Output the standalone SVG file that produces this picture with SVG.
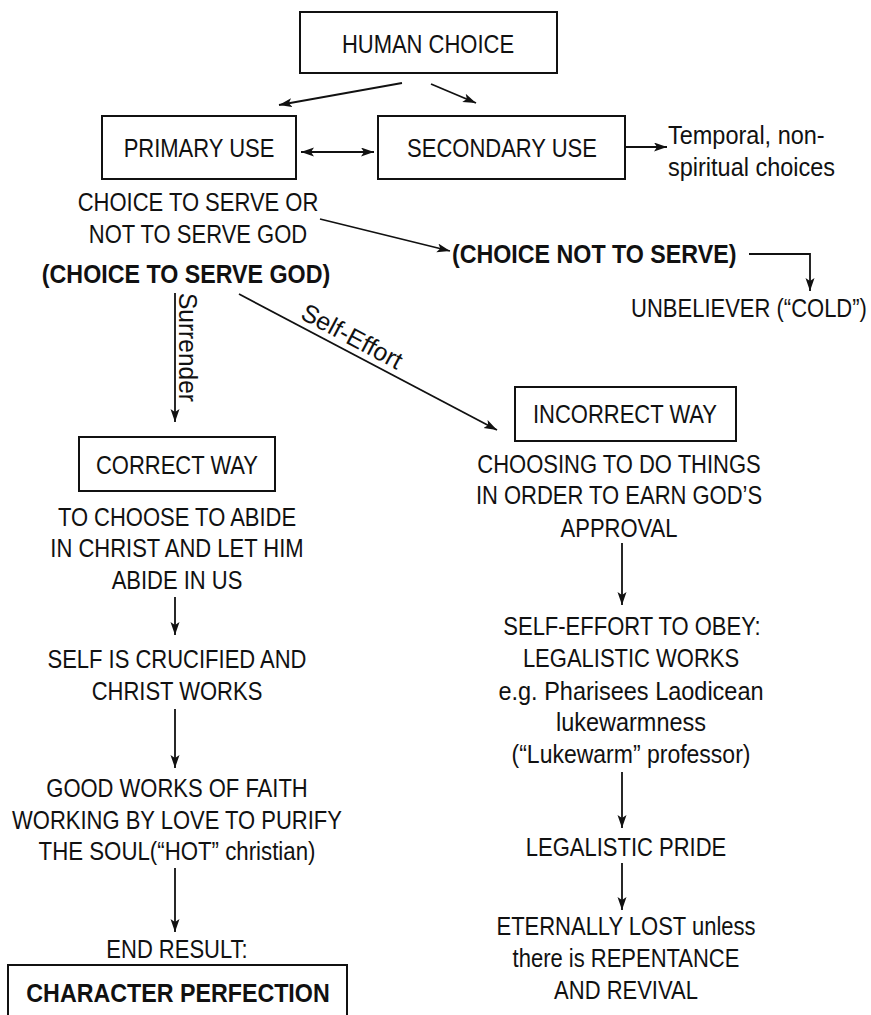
<svg xmlns="http://www.w3.org/2000/svg" width="871" height="1015" viewBox="0 0 871 1015">
<style>
text{font-family:"Liberation Sans",Arial,sans-serif;font-size:25px;fill:#111}
.c{text-anchor:middle}
.b{font-weight:bold}
rect{fill:#fff;stroke:#111;stroke-width:2}
#connectors line,#connectors path{stroke:#111;stroke-width:1.8;fill:none}
</style>
<defs>
<marker id="ah" markerUnits="userSpaceOnUse" markerWidth="14" markerHeight="10" refX="13" refY="4.5" orient="auto-start-reverse">
<path d="M0,0 L13,4.5 L0,9 L3,4.5 z" fill="#111"/>
</marker>
</defs>
<rect x="0" y="0" width="871" height="1015" style="stroke:none"/>
<g id="human"><rect x="300" y="12" width="257" height="61"/><text class="c" transform="matrix(.88 0 0 1 428 53)">HUMAN CHOICE</text></g>
<g id="primary"><rect x="102" y="116" width="194" height="63"/><text class="c" transform="matrix(.88 0 0 1 199 157)">PRIMARY USE</text></g>
<g id="secondary"><rect x="378" y="116" width="247" height="63"/><text class="c" transform="matrix(.88 0 0 1 502 157)">SECONDARY USE</text></g>
<g id="temporal"><text transform="matrix(.94 0 0 1 668 144)">Temporal, non-</text><text transform="matrix(.94 0 0 1 668 176)">spiritual choices</text></g>
<g id="choice"><text class="c" transform="matrix(.88 0 0 1 198 211)">CHOICE TO SERVE OR</text><text class="c" transform="matrix(.88 0 0 1 198 243)">NOT TO SERVE GOD</text></g>
<g id="serve"><text class="c b" transform="matrix(.93 0 0 1 186 283)">(CHOICE TO SERVE GOD)</text></g>
<g id="notserve"><text class="b" transform="matrix(.93 0 0 1 452 263)">(CHOICE NOT TO SERVE)</text></g>
<g id="unbeliever"><text class="c" transform="matrix(.88 0 0 1 749 317)">UNBELIEVER (“COLD”)</text></g>
<g id="incorrect"><rect x="515" y="387" width="221" height="54"/><text class="c" transform="matrix(.88 0 0 1 625 423)">INCORRECT WAY</text></g>
<g id="correct"><rect x="79" y="437" width="196" height="54"/><text class="c" transform="matrix(.88 0 0 1 177 474)">CORRECT WAY</text></g>
<g id="abide"><text class="c" transform="matrix(.88 0 0 1 177 526)">TO CHOOSE TO ABIDE</text><text class="c" transform="matrix(.88 0 0 1 177 557)">IN CHRIST AND LET HIM</text><text class="c" transform="matrix(.88 0 0 1 177 589)">ABIDE IN US</text></g>
<g id="crucified"><text class="c" transform="matrix(.88 0 0 1 177 668)">SELF IS CRUCIFIED AND</text><text class="c" transform="matrix(.88 0 0 1 177 700)">CHRIST WORKS</text></g>
<g id="goodworks"><text class="c" transform="matrix(.88 0 0 1 177 797)">GOOD WORKS OF FAITH</text><text class="c" transform="matrix(.88 0 0 1 177 829)">WORKING BY LOVE TO PURIFY</text><text class="c" transform="matrix(.89 0 0 1 177 860)">THE SOUL(“HOT” christian)</text></g>
<g id="endresult"><text class="c" transform="matrix(.88 0 0 1 177 958)">END RESULT:</text></g>
<g id="perfection"><rect x="8" y="965" width="339" height="62"/><text class="c b" transform="matrix(.93 0 0 1 178 1002)">CHARACTER PERFECTION</text></g>
<g id="choosing"><text class="c" transform="matrix(.88 0 0 1 619 473)">CHOOSING TO DO THINGS</text><text class="c" transform="matrix(.88 0 0 1 619 504)">IN ORDER TO EARN GOD’S</text><text class="c" transform="matrix(.88 0 0 1 619 537)">APPROVAL</text></g>
<g id="selfeffort"><text class="c" transform="matrix(.88 0 0 1 632 635)">SELF-EFFORT TO OBEY:</text><text class="c" transform="matrix(.88 0 0 1 631 667)">LEGALISTIC WORKS</text><text class="c" transform="matrix(.94 0 0 1 631 700)">e.g. Pharisees Laodicean</text><text class="c" transform="matrix(.94 0 0 1 631 731)">lukewarmness</text><text class="c" transform="matrix(.92 0 0 1 631 763)">(“Lukewarm” professor)</text></g>
<g id="pride"><text class="c" transform="matrix(.88 0 0 1 626 856)">LEGALISTIC PRIDE</text></g>
<g id="lost"><text class="c" transform="matrix(.88 0 0 1 626 935)">ETERNALLY LOST unless</text><text class="c" transform="matrix(.88 0 0 1 626 967)">there is REPENTANCE</text><text class="c" transform="matrix(.88 0 0 1 626 999)">AND REVIVAL</text></g>
<g id="connectors">
<line x1="402" y1="83" x2="279" y2="105" marker-end="url(#ah)"/>
<line x1="431" y1="84" x2="476" y2="103" marker-end="url(#ah)"/>
<line x1="301" y1="152" x2="374" y2="152" marker-start="url(#ah)" marker-end="url(#ah)"/>
<line x1="626" y1="147" x2="667" y2="147" marker-end="url(#ah)"/>
<line x1="320" y1="219" x2="450" y2="251" marker-end="url(#ah)"/>
<path d="M749,254 H810 V291" marker-end="url(#ah)"/>
<line x1="175" y1="293" x2="175" y2="422" marker-end="url(#ah)"/>
<line x1="239" y1="294" x2="497" y2="430" marker-end="url(#ah)"/>
<line x1="622" y1="543" x2="622" y2="605" marker-end="url(#ah)"/>
<line x1="175" y1="597" x2="175" y2="635" marker-end="url(#ah)"/>
<line x1="175" y1="709" x2="175" y2="768" marker-end="url(#ah)"/>
<line x1="622" y1="772" x2="622" y2="828" marker-end="url(#ah)"/>
<line x1="175" y1="868" x2="175" y2="932" marker-end="url(#ah)"/>
<line x1="622" y1="863" x2="622" y2="910" marker-end="url(#ah)"/>
<text transform="translate(179,293) rotate(90) scale(.98,1)">Surrender</text>
<text class="c" transform="translate(348,344) rotate(28)">Self-Effort</text>
</g>
</svg>
